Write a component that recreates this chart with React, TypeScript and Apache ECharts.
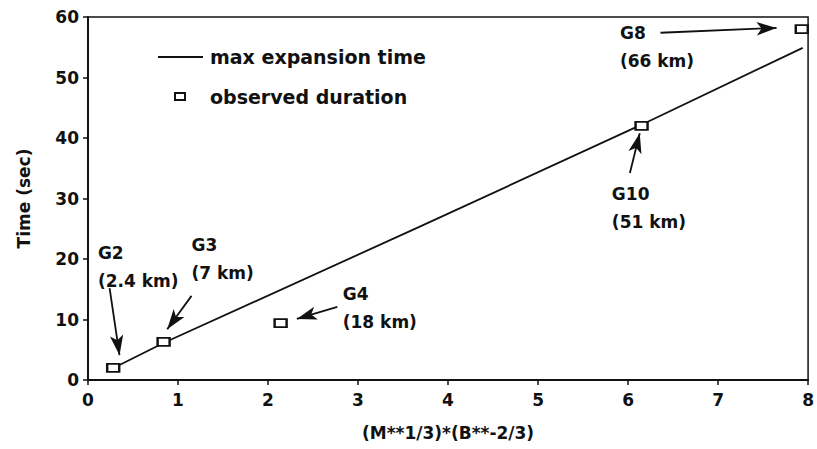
import React, { useEffect, useRef } from "react";
import * as echarts from "echarts";

// Model line: max expansion time
const lineX = [0.3, 0.85, 3.68, 6.15, 7.94];
const lineY = [2.1, 6.2, 25.3, 42.2, 54.9];

// Observed durations
const obsX = [0.28, 0.84, 2.14, 6.15, 7.93];
const obsY = [2.0, 6.3, 9.4, 42.0, 58.0];

// Annotations (text anchor = top-left of label block, in data units)
const annoName = ["G2", "G3", "G4", "G10", "G8"];
const annoDist = ["(2.4 km)", "(7 km)", "(18 km)", "(51 km)", "(66 km)"];
const annoX = [0.11, 1.15, 2.83, 5.82, 5.91];
const annoY = [23.3, 24.6, 16.5, 33.1, 59.7];

// Arrows: from (tail) -> to (head), data units
const arrowFromX = [0.24, 1.15, 2.77, 6.02, 6.36];
const arrowFromY = [15.2, 13.9, 12.1, 34.2, 57.4];
const arrowToX = [0.35, 0.88, 2.32, 6.13, 7.65];
const arrowToY = [4.1, 8.4, 10.1, 40.8, 58.2];

const xTicks = [0, 1, 2, 3, 4, 5, 6, 7, 8];
const yTicks = [0, 10, 20, 30, 40, 50, 60];

const legendLabels = ["max expansion time", "observed duration"];
const xTitle = "(M**1/3)*(B**-2/3)";
const yTitle = "Time (sec)";

const FONT = "DejaVu Sans";
const INK = "#111";

export default function App() {
  const ref = useRef<HTMLDivElement>(null);
  useEffect(() => {
    if (!ref.current) return;
    const chart = echarts.init(ref.current, undefined, { renderer: "svg" });
    const option: any = {
      animation: false,
      backgroundColor: "#fff",
      grid: {
        left: 88,
        right: 7,
        top: 17,
        bottom: 69,
        show: true,
        borderColor: INK,
        borderWidth: 1.5,
        backgroundColor: "transparent",
      },
      xAxis: {
        type: "value",
        min: xTicks[0],
        max: xTicks[xTicks.length - 1],
        interval: 1,
        name: xTitle,
        nameLocation: "middle",
        nameGap: 44,
        nameTextStyle: { fontFamily: FONT, fontSize: 17, fontWeight: "bold", color: INK },
        axisLine: { lineStyle: { color: INK, width: 2 } },
        axisTick: { show: true, length: 5, lineStyle: { color: INK, width: 1.5 } },
        axisLabel: { fontFamily: FONT, fontSize: 17, fontWeight: "bold", color: INK, margin: 11 },
        splitLine: { show: false },
      },
      yAxis: {
        type: "value",
        min: yTicks[0],
        max: yTicks[yTicks.length - 1],
        interval: 10,
        name: yTitle,
        nameLocation: "middle",
        nameGap: 56,
        nameRotate: 90,
        nameTextStyle: { fontFamily: FONT, fontSize: 17, fontWeight: "bold", color: INK },
        axisLine: { lineStyle: { color: INK, width: 2 } },
        axisTick: { show: true, length: 5, lineStyle: { color: INK, width: 1.5 } },
        axisLabel: { fontFamily: FONT, fontSize: 17, fontWeight: "bold", color: INK, margin: 9 },
        splitLine: { show: false },
      },
      series: [
        {
          name: legendLabels[0],
          type: "line",
          data: lineX.map((x, i) => [x, lineY[i]]),
          showSymbol: false,
          symbol: "none",
          smooth: false,
          lineStyle: { color: INK, width: 1.8 },
          z: 2,
        },
        {
          name: legendLabels[1],
          type: "scatter",
          data: obsX.map((x, i) => [x, obsY[i]]),
          symbol: "rect",
          symbolSize: [12, 8],
          itemStyle: { color: "#fff", borderColor: INK, borderWidth: 2, opacity: 1 },
          clip: false,
          z: 3,
        },
        {
          name: "annotations",
          type: "scatter",
          data: annoX.map((x, i) => [x, annoY[i]]),
          symbolSize: 1,
          itemStyle: { color: "transparent", opacity: 1 },
          silent: true,
          label: {
            show: true,
            position: "inside",
            align: "left",
            verticalAlign: "top",
            fontFamily: FONT,
            fontSize: 17,
            fontWeight: "bold",
            lineHeight: 28,
            color: INK,
            opacity: 1,
            formatter: (p: any) => `${annoName[p.dataIndex]}\n${annoDist[p.dataIndex]}`,
          },
          markLine: {
            silent: true,
            symbol: ["none", "arrow"],
            symbolSize: [10, 20],
            lineStyle: { color: INK, width: 1.8, type: "solid", opacity: 1 },
            itemStyle: { color: INK },
            label: { show: false },
            data: arrowFromX.map((x, i) => [
              { coord: [x, arrowFromY[i]] },
              { coord: [arrowToX[i], arrowToY[i]] },
            ]),
          },
          z: 4,
        },
      ],
      graphic: [
        { type: "line", shape: { x1: 158, y1: 57, x2: 203, y2: 57 }, style: { stroke: INK, lineWidth: 1.8 } },
        { type: "text", x: 210, y: 57, style: { text: legendLabels[0], fontFamily: FONT, fontSize: 19, fontWeight: "bold", fill: INK, verticalAlign: "middle" } },
        { type: "rect", shape: { x: 175, y: 93, width: 10, height: 7 }, style: { fill: "#fff", stroke: INK, lineWidth: 2 } },
        { type: "text", x: 210, y: 97, style: { text: legendLabels[1], fontFamily: FONT, fontSize: 19, fontWeight: "bold", fill: INK, verticalAlign: "middle" } },
      ],
    };
    chart.setOption(option);
    return () => chart.dispose();
  }, []);
  return <div ref={ref} style={{ position: "absolute", left: 0, top: 0, width: 817, height: 449 }} />;
}
